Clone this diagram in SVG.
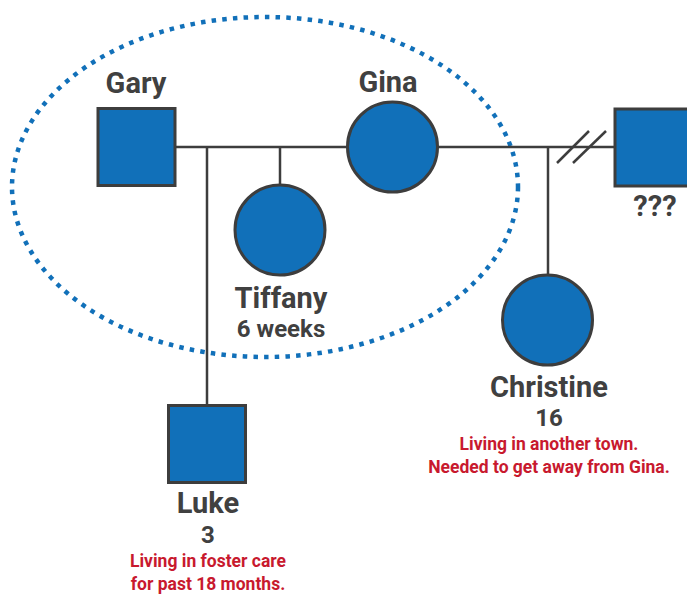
<svg xmlns="http://www.w3.org/2000/svg" width="687" height="594" viewBox="0 0 687 594">
<style>
.m{fill:#1170b9;stroke:#3d3d3d;stroke-width:3}
.l{stroke:#3d3d3d;stroke-width:2.5;fill:none}
.n{font-family:Roboto,"Liberation Sans",sans-serif;font-weight:700;fill:#404040;text-anchor:middle}
.nm{font-size:29px}
.ag{font-size:24px}
.r{font-family:Roboto,"Liberation Sans",sans-serif;font-weight:700;fill:#c8192e;font-size:17.5px;text-anchor:middle}
</style>
<rect width="687" height="594" fill="#fff"/>
<ellipse cx="265" cy="187" rx="253" ry="170" fill="none" stroke="#1170b9" stroke-width="4.5" stroke-dasharray="4.5 6.2"/>
<g id="connectors">
<line class="l" x1="175" y1="147" x2="615" y2="147"/>
<line class="l" x1="207" y1="147" x2="207" y2="405"/>
<line class="l" x1="280" y1="147" x2="280" y2="185"/>
<line class="l" x1="548" y1="147" x2="548" y2="275"/>
<line class="l" x1="557" y1="163" x2="589" y2="131"/>
<line class="l" x1="573" y1="163" x2="606" y2="131"/>
</g>
<g id="gary">
<rect class="m" x="98" y="108.5" width="77" height="77"/>
<text class="n nm" x="136" y="93">Gary</text>
</g>
<g id="gina">
<circle class="m" cx="392.5" cy="147" r="45"/>
<text class="n nm" x="388" y="92">Gina</text>
</g>
<g id="unknown">
<rect class="m" x="615" y="109" width="80" height="77"/>
<text class="n nm" x="655" y="216">???</text>
</g>
<g id="tiffany">
<circle class="m" cx="280" cy="230" r="45"/>
<text class="n nm" x="281" y="308">Tiffany</text>
<text class="n ag" x="281" y="337">6 weeks</text>
</g>
<g id="christine">
<circle class="m" cx="547.5" cy="320" r="45"/>
<text class="n nm" x="549" y="397">Christine</text>
<text class="n ag" x="549" y="426">16</text>
<text class="r" x="549" y="450">Living in another town.</text>
<text class="r" x="549" y="473">Needed to get away from Gina.</text>
</g>
<g id="luke">
<rect class="m" x="168.5" y="405.5" width="77" height="77"/>
<text class="n nm" x="208" y="513">Luke</text>
<text class="n ag" x="208" y="543">3</text>
<text class="r" x="208" y="567">Living in foster care</text>
<text class="r" x="208" y="590">for past 18 months.</text>
</g>
</svg>
